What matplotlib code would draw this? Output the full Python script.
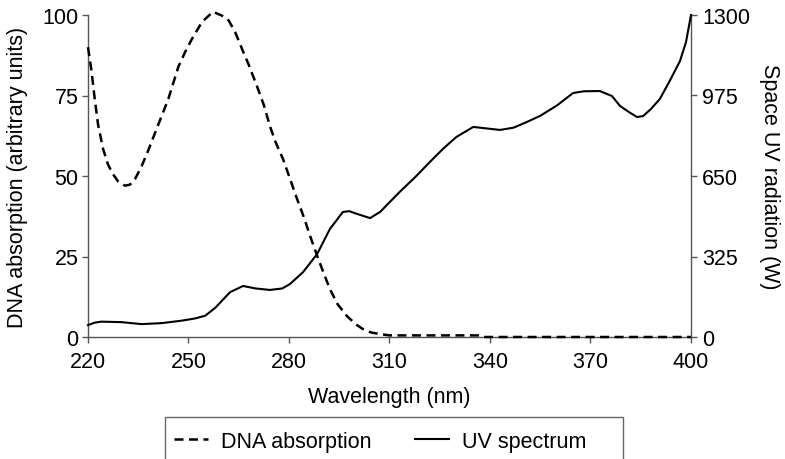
import matplotlib
matplotlib.use("Agg")
import matplotlib.pyplot as plt
from matplotlib.lines import Line2D
from matplotlib.patches import Rectangle

plt.rcParams["font.family"] = ["Liberation Sans", "DejaVu Sans"]
plt.rcParams["font.size"] = 15.5

# DNA absorption (left axis, arbitrary units)
dna_wl = [220, 221, 222, 223, 224.5, 226, 227.5, 229, 231, 232.5, 234, 236, 238,
          241, 244, 247, 249, 251, 254, 257.3, 260, 262, 264, 266, 268, 270.4,
          272.5, 274.3, 276, 278.2, 280, 282.4, 284.5, 286.3, 288.4, 290.3,
          292.2, 294.5, 297.3, 300, 302, 304.5, 307.2, 310, 337, 338, 400]
dna_abs = [90, 83, 74, 66, 58.4, 53.5, 50.5, 48.3, 47, 47.3, 49, 53, 58,
           66, 74, 84, 88.5, 92.5, 97.8, 101, 99.8, 98.3, 94.5, 89.4, 84.5, 78,
           72, 65.5, 60.5, 55.3, 50, 42.9, 37, 31.4, 25.2, 20,
           14.9, 10.2, 6.5, 3.9, 2.5, 1.4, 0.9, 0.5, 0.5, 0, 0]

# UV spectrum (right axis, W)
uv_wl = [220, 222, 224, 230, 236, 242, 248, 252, 255, 258, 262.4, 266.3, 270,
         274.3, 278, 280.3, 284.2, 288.4, 292.2, 296.1, 298, 300.3, 304.2, 307.2,
         310.1, 313, 318, 322, 326, 330, 335, 339, 343, 347, 351, 355, 360,
         364.8, 368, 372.8, 376.4, 378.8, 381.5, 383.9, 385.7, 388, 390.7, 393.5,
         396.7, 398.5, 400]
uv_power = [48, 58, 62, 60, 52, 56, 66, 75, 86, 118, 181, 206, 196,
            190, 196, 214, 262, 335, 436, 505, 508, 497, 480, 505,
            545, 585, 650, 706, 760, 808, 848, 842, 836, 845, 868, 893, 935,
            985, 992, 993, 973, 933, 908, 888, 892, 920, 961, 1030,
            1114, 1190, 1300]

x_ticks = [220, 250, 280, 310, 340, 370, 400]
left_ticks = [0, 25, 50, 75, 100]
right_ticks = [0, 325, 650, 975, 1300]

spine_color = "#555555"
W, H = 785, 460

fig = plt.figure(figsize=(7.85, 4.6), dpi=100)
ax = fig.add_axes([88 / W, 1 - 338 / H, 603 / W, 322 / H])
ax2 = ax.twinx()

ax.plot(dna_wl, dna_abs, color="black", linewidth=1.8, dashes=(3.6, 2.2),
        clip_on=False, zorder=3)
ax2.plot(uv_wl, uv_power, color="black", linewidth=1.5, clip_on=False, zorder=3)

ax.set_xlim(220, 400)
ax.set_ylim(0, 100)
ax2.set_ylim(0, 1300)
ax.set_xticks(x_ticks)
ax.set_yticks(left_ticks)
ax2.set_yticks(right_ticks)

for a in (ax, ax2):
    a.spines["top"].set_visible(False)
    for s in a.spines.values():
        s.set_color(spine_color)
        s.set_linewidth(1.0)
    a.patch.set_visible(False)
ax.spines["right"].set_visible(False)
ax2.spines["left"].set_visible(False)
ax2.spines["bottom"].set_visible(False)

ax.tick_params(axis="x", direction="out", length=4, width=1, color=spine_color, pad=6)
ax.tick_params(axis="y", direction="out", length=4, width=1, color=spine_color, pad=3)
ax2.tick_params(axis="y", direction="out", length=4, width=1, color=spine_color, pad=4)

ax.set_xlabel("Wavelength (nm)")
ax.xaxis.set_label_coords(0.5, -0.152)
ax.set_ylabel("DNA absorption (arbitrary units)")
ax.yaxis.set_label_coords(-0.099, 0.5)
ax2.set_ylabel("Space UV radiation (W)", rotation=270, va="center")
ax2.yaxis.set_label_coords(1.131, 0.5)

# legend box (runs past the bottom edge, as in the original)
fig.patches.append(Rectangle((165 / W, -0.05), 458 / W, 0.05 + 42 / H,
                             transform=fig.transFigure, fill=False,
                             edgecolor="#666666", linewidth=1.0))

handles = [
    Line2D([], [], color="black", linewidth=1.8, dashes=(3.6, 2.2)),
    Line2D([], [], color="black", linewidth=1.5),
]
fig.legend(handles, ["DNA absorption", "UV spectrum"], ncol=2,
           loc="upper left", borderaxespad=0, frameon=False,
           bbox_to_anchor=(165 / W, 1 - 423 / H),
           handlelength=1.6, borderpad=0.4, columnspacing=2.0,
           handletextpad=0.6)

fig.savefig("out.png", dpi=100)
